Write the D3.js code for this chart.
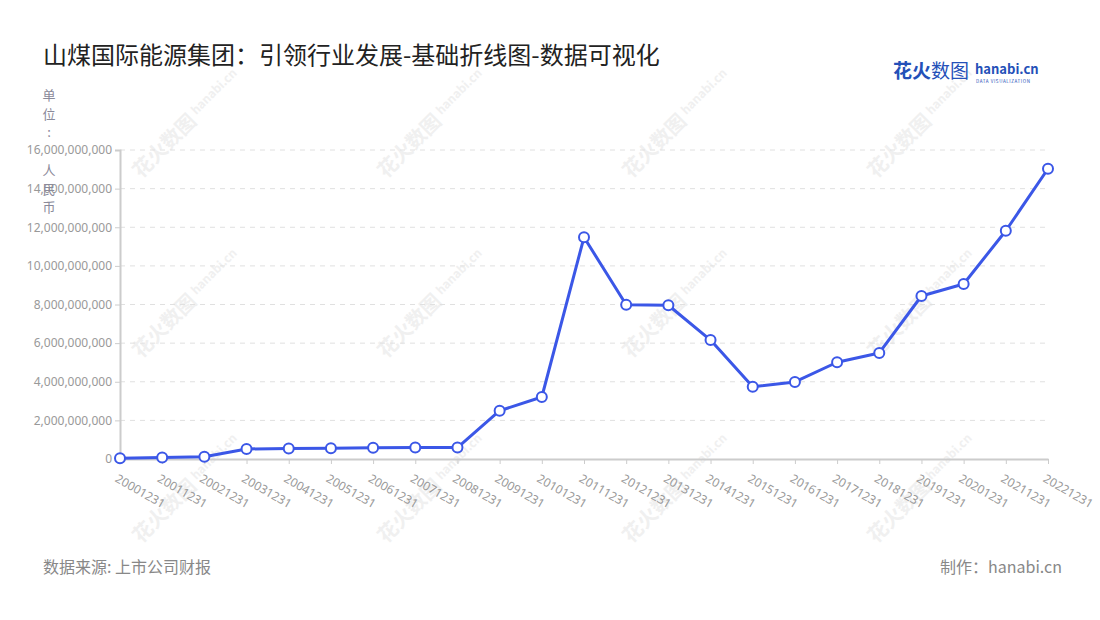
<!DOCTYPE html>
<html>
<head>
<meta charset="utf-8">
<script src="https://cdn.jsdelivr.net/npm/d3@7"></script>
<style>
  body { margin: 0; background: #fff; font-family: "Noto Sans CJK SC", "Noto Sans", sans-serif; }
  #chart { width: 1100px; height: 620px; }
</style>
</head>
<body>
<div id="chart"></div>
<script>
// data
var categories = ["20001231","20011231","20021231","20031231","20041231","20051231","20061231","20071231","20081231","20091231","20101231","20111231","20121231","20131231","20141231","20151231","20161231","20171231","20181231","20191231","20201231","20211231","20221231"];
var revenue = [0.04e9, 0.08e9, 0.12e9, 0.52e9, 0.54e9, 0.56e9, 0.58e9, 0.59e9, 0.59e9, 2.5e9, 3.21e9, 11.48e9, 7.99e9, 7.96e9, 6.16e9, 3.74e9, 3.99e9, 5.01e9, 5.49e9, 8.44e9, 9.06e9, 11.82e9, 15.03e9];
var yTicks = [0, 2e9, 4e9, 6e9, 8e9, 10e9, 12e9, 14e9, 16e9];

var title = "山煤国际能源集团：引领行业发展-基础折线图-数据可视化";
var unitChars = ["单", "位", ":", " ", "人", "民", "币"];

var margin = { top: 150, right: 52, bottom: 161, left: 120 },
    W = 1100, H = 620,
    width = W - margin.left - margin.right,
    height = H - margin.top - margin.bottom;

var svg = d3.select("#chart").append("svg")
    .attr("width", W)
    .attr("height", H);

// watermarks
var wm = svg.append("g").attr("class", "watermark");
[140, 320, 505].forEach(function(wy) {
    [170, 415, 660, 905].forEach(function(wx) {
        var g = wm.append("g")
            .attr("transform", "translate(" + wx + "," + wy + ") rotate(-45)");
        g.append("text")
            .attr("x", -48).attr("y", 7)
            .style("font-size", "20px")
            .style("font-weight", "bold")
            .style("fill", "#f0f0f0")
            .text("花火数图");
        g.append("text")
            .attr("x", 36).attr("y", 1)
            .style("font-size", "12px")
            .style("font-weight", "bold")
            .style("fill", "#f0f0f0")
            .text("hanabi.cn");
    });
});

svg.append("text")
    .attr("x", 43).attr("y", 64)
    .style("font-size", "24px")
    .style("fill", "#222")
    .text(title);

// logo
var logo = svg.append("g").attr("transform", "translate(893,78)");
logo.append("text")
    .style("font-size", "19px").style("font-weight", "bold").style("fill", "#2450b8")
    .text("花火");
logo.append("text")
    .attr("x", 38)
    .style("font-size", "19px").style("fill", "#2450b8")
    .text("数图");
logo.append("text")
    .attr("x", 82).attr("y", -4)
    .style("font-size", "13px").style("font-weight", "bold").style("fill", "#2450b8")
    .text("hanabi.cn");
logo.append("text")
    .attr("x", 83).attr("y", 5)
    .style("font-size", "4.5px").style("fill", "#2450b8").style("letter-spacing", "0.6px")
    .text("DATA VISUALIZATION");

var x = d3.scalePoint()
    .domain(categories)
    .range([0, width]);

var y = d3.scaleLinear()
    .domain([0, 16e9])
    .range([height, 0]);

var g = svg.append("g")
    .attr("transform", "translate(" + margin.left + "," + margin.top + ")");

// grid
g.selectAll(".grid")
    .data(yTicks.slice(1))
    .enter().append("line")
    .attr("class", "grid")
    .attr("x1", 0).attr("x2", width)
    .attr("y1", function(d) { return y(d); })
    .attr("y2", function(d) { return y(d); })
    .attr("stroke", "#e0e0e0")
    .attr("stroke-dasharray", "5,5");

var yAxis = d3.axisLeft(y)
    .tickValues(yTicks)
    .tickSize(5)
    .tickPadding(3)
    .tickFormat(d3.format(","));

var yg = g.append("g").attr("class", "y axis").call(yAxis);
yg.select(".domain").attr("stroke", "#ccc").attr("stroke-width", 2);
yg.selectAll(".tick line").attr("stroke", "#ccc");
yg.selectAll(".tick text")
    .style("font-family", "'Noto Sans', sans-serif")
    .style("font-size", "12px")
    .style("fill", "#999");

var xAxis = d3.axisBottom(x).tickSize(5).tickSizeOuter(0);
var xg = g.append("g")
    .attr("class", "x axis")
    .attr("transform", "translate(0," + height + ")")
    .call(xAxis);
xg.select(".domain").attr("stroke", "#ccc").attr("stroke-width", 2);
xg.selectAll(".tick line").attr("stroke", "#ccc");
xg.selectAll(".tick text")
    .style("font-family", "'Noto Sans', sans-serif")
    .style("font-size", "12px")
    .style("fill", "#999")
    .style("text-anchor", "start")
    .attr("dy", null)
    .attr("y", 0)
    .attr("transform", "translate(-1,13) rotate(30)")
    .attr("dominant-baseline", "hanging");

// unit label, one char per line
var unit = svg.append("text")
    .attr("x", 49).attr("y", 100)
    .style("font-size", "13px")
    .style("fill", "#8a8a9a")
    .style("text-anchor", "middle");
unit.selectAll("tspan")
    .data(unitChars)
    .enter().append("tspan")
    .attr("x", 49)
    .attr("dy", function(d, i) { return i === 0 ? 0 : 18.7; })
    .text(function(d) { return d === " " ? "\u00a0" : d; });

var line = d3.line()
    .x(function(d, i) { return x(categories[i]); })
    .y(function(d) { return y(d); });

g.append("path")
    .datum(revenue)
    .attr("fill", "none")
    .attr("stroke", "#3b57e7")
    .attr("stroke-width", 3)
    .attr("stroke-linejoin", "round")
    .attr("d", line);

g.selectAll(".dot")
    .data(revenue)
    .enter().append("circle")
    .attr("class", "dot")
    .attr("cx", function(d, i) { return x(categories[i]); })
    .attr("cy", function(d) { return y(d); })
    .attr("r", 5)
    .attr("fill", "#fff")
    .attr("stroke", "#3b57e7")
    .attr("stroke-width", 2);

// footer
svg.append("text")
    .attr("x", 43).attr("y", 573)
    .style("font-size", "16px")
    .style("fill", "#888")
    .text("数据来源: 上市公司财报");
svg.append("text")
    .attr("x", 1062).attr("y", 573)
    .style("font-size", "16px")
    .style("fill", "#888")
    .style("text-anchor", "end")
    .text("制作：hanabi.cn");
</script>
</body>
</html>
